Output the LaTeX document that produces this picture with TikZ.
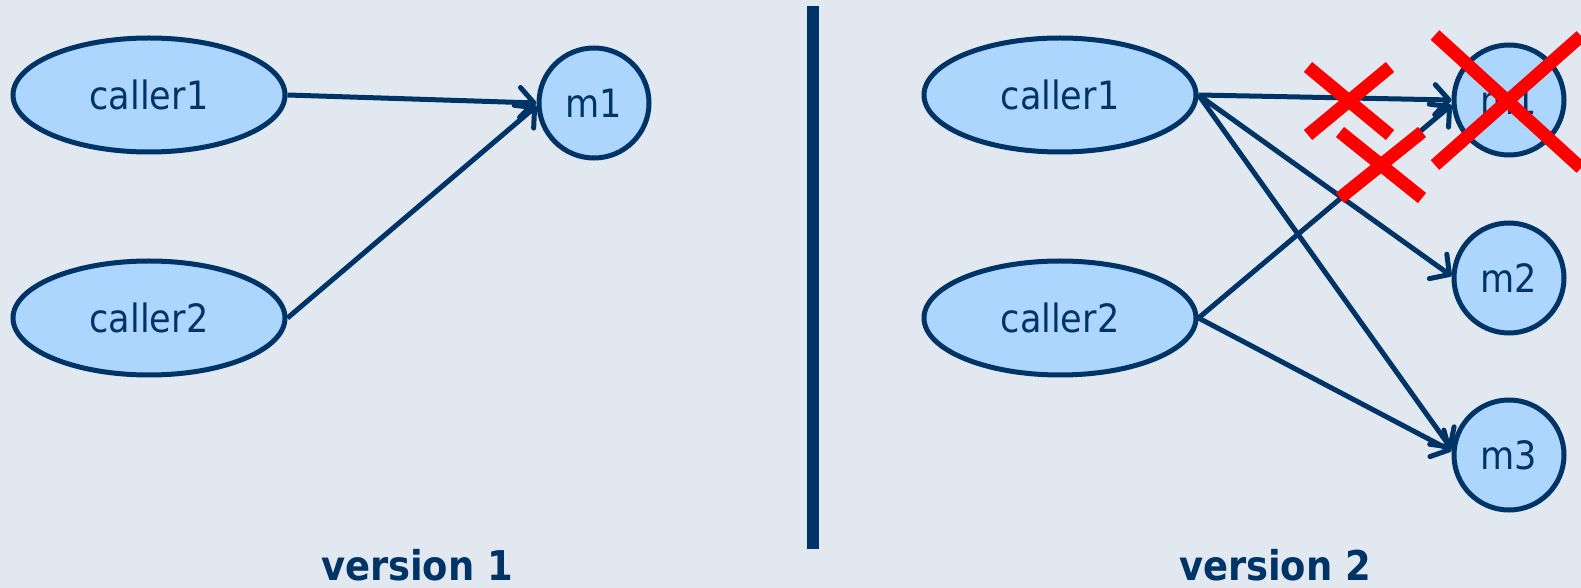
\documentclass[tikz,border=0pt]{standalone}
\usepackage{fontspec}
\setmainfont{DejaVu Sans Condensed}[BoldFont={DejaVu Sans Condensed Bold}]
\usetikzlibrary{arrows.meta,shapes.geometric}
\definecolor{bgc}{RGB}{226,232,239}
\definecolor{navy}{RGB}{0,51,102}
\definecolor{nfill}{RGB}{173,214,255}
\definecolor{xred}{RGB}{255,0,0}
\tikzset{
  caller/.style={ellipse, draw=navy, fill=nfill, line width=2.5pt, inner sep=0pt,
    minimum width=136pt, minimum height=57pt, text=navy, font=\fontsize{19.5pt}{22pt}\selectfont},
  meth/.style={circle, draw=navy, fill=nfill, line width=2.5pt, inner sep=0pt,
    minimum size=55pt, text=navy, font=\fontsize{19.5pt}{22pt}\selectfont},
  arr/.style={draw=navy, line width=2.5pt, -{Straight Barb[length=7pt,width=15pt,round]}},
  vlabel/.style={text=navy, font=\bfseries\fontsize{20.5pt}{24pt}\selectfont, anchor=base, inner sep=0pt},
  xmark/.style={draw=xred, line width=6.5pt},
}
\begin{document}
\begin{tikzpicture}[x=0.5pt,y=-0.5pt]
\fill[bgc] (0,0) rectangle (1581,588);
\useasboundingbox (0,0) rectangle (1581,588);
% version 1
\node[caller] (a1) at (149,95) {caller1};
\node[caller] (a2) at (149,318) {caller2};
\node[meth] (am1) at (594,103) {m1};
\draw[arr] (a1.east) -- (am1.west);
\draw[arr] (a2.east) -- ([yshift=-1.5pt]am1.west);
\node[vlabel] (v1) at (417,580) {version 1};
% separator
\fill[navy] (807,6) rectangle (819,549);
% version 2
\node[caller] (b1) at (1060,95) {caller1};
\node[caller] (b2) at (1060,318) {caller2};
\node[meth] (bm1) at (1509,100) {m1};
\node[meth] (bm2) at (1509,278) {m2};
\node[meth] (bm3) at (1509,455) {m3};
\draw[arr] (b1.east) -- (bm1.west);
\draw[arr] (b1.east) -- ([yshift=1pt]bm2.west);
\draw[arr] (b1.east) -- ([yshift=3pt]bm3.west);
\draw[arr] (b2.east) -- ([yshift=-2.5pt]bm1.west);
\draw[arr] (b2.east) -- ([yshift=2pt]bm3.west);
\node[vlabel] (v2) at (1275,580) {version 2};
% red crosses
\draw[xmark] (1435,35) -- (1581,168) (1435,165) -- (1581,36);
\draw[xmark] (1308,67) -- (1390,135) (1308,135) -- (1390,67);
\draw[xmark] (1340,132) -- (1422,198) (1340,198) -- (1422,132);
\end{tikzpicture}
\end{document}
